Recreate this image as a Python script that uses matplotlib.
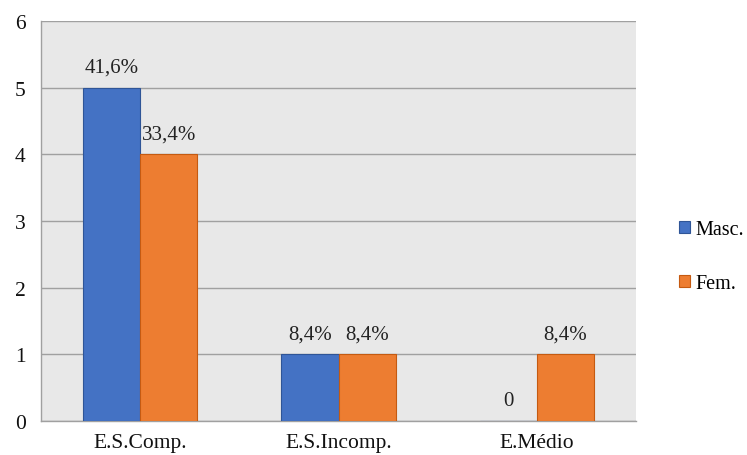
import matplotlib
matplotlib.use('Agg')
import numpy as np
import matplotlib.pyplot as plt

categorias = ['E.S.Comp.', 'E.S.Incomp.', 'E.Médio']
masc = [5, 1, 0]
fem = [4, 1, 1]
rotulos_masc = ['41,6%', '8,4%', '0']
rotulos_fem = ['33,4%', '8,4%', '8,4%']

plt.rcParams['font.family'] = ['Liberation Serif', 'DejaVu Serif']

fig = plt.figure(figsize=(7.47, 4.56), dpi=100)
ax = fig.add_axes([41 / 747, 34 / 456, 595 / 747, 400 / 456])

x = np.arange(len(categorias))
w = 0.288
b1 = ax.bar(x - w / 2, masc, w, color='#4472C4', edgecolor='#2F5597', linewidth=0.8, label='Masc.', zorder=3)
b2 = ax.bar(x + w / 2, fem, w, color='#ED7D31', edgecolor='#C55A11', linewidth=0.8, label='Fem.', zorder=3)

for bars, rot in ((b1, rotulos_masc), (b2, rotulos_fem)):
    for r, t in zip(bars, rot):
        ax.annotate(t, (r.get_x() + r.get_width() / 2, r.get_height()),
                    xytext=(0, 8), textcoords='offset points',
                    ha='center', va='bottom', fontsize=15, color='#222222')

ax.set_facecolor('#e8e8e8')
ax.set_xlim(-0.5, 2.5)
ax.set_ylim(0, 6)
ax.set_yticks(range(7))
ax.yaxis.grid(True, color='#a0a0a0', linewidth=1.0, zorder=0)
ax.set_axisbelow(True)
ax.set_xticks(x)
ax.set_xticklabels(categorias)
ax.tick_params(axis='both', length=0, labelsize=15.5, colors='#111111')
ax.tick_params(axis='x', pad=9)
ax.tick_params(axis='y', pad=11)
for s in ('top', 'right'):
    ax.spines[s].set_visible(False)
ax.spines['left'].set_color('#a0a0a0')
ax.spines['bottom'].set_color('#a0a0a0')
ax.spines['left'].set_linewidth(1.0)
ax.spines['bottom'].set_linewidth(1.0)

fig.legend(handles=[b1, b2], loc='upper left', bbox_to_anchor=(669 / 747, 1 - 211 / 456),
           frameon=False, fontsize=14.5, handlelength=0.55, handleheight=0.55,
           handletextpad=0.25, labelspacing=1.75, borderpad=0)

fig.savefig('out.png', dpi=100)
